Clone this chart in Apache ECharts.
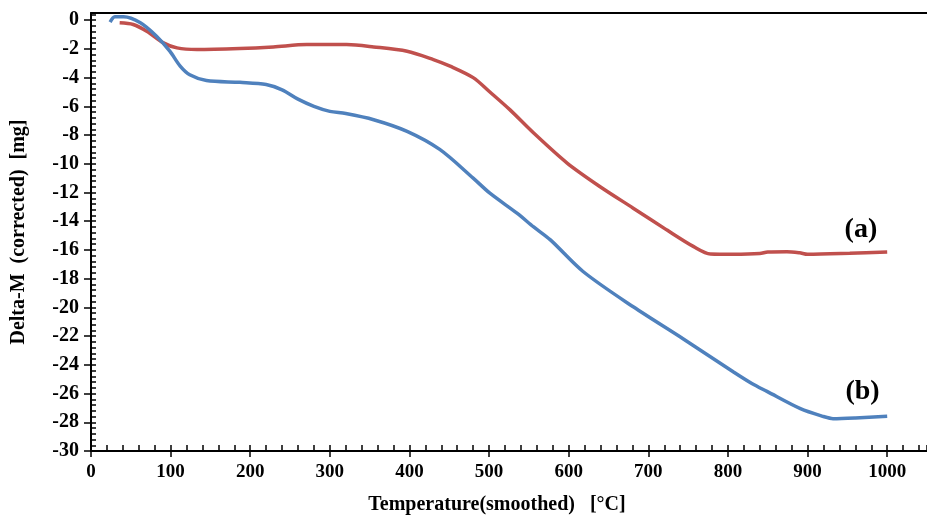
<!DOCTYPE html>
<html>
<head>
<meta charset="utf-8">
<script src="https://cdn.jsdelivr.net/npm/echarts@6/dist/echarts.min.js"></script>
<style>html,body{margin:0;padding:0;background:#fff}#c{width:927px;height:515px}</style>
</head>
<body>
<div id="c"></div>
<script>
// Curve (a) – red
const tempA = [36, 53, 70, 91, 108, 133, 187, 229, 271, 321, 355, 397, 430, 451, 480, 501, 526, 556, 598, 639, 681, 723, 757, 778, 807, 840, 850, 874, 890, 900, 953, 1000];
const massA = [-0.18, -0.3, -0.77, -1.58, -1.93, -2.04, -1.97, -1.86, -1.70, -1.70, -1.86, -2.16, -2.74, -3.2, -4.0, -5.0, -6.23, -7.86, -9.95, -11.58, -13.09, -14.6, -15.77, -16.28, -16.3, -16.25, -16.14, -16.12, -16.2, -16.3, -16.23, -16.14];
// Curve (b) – blue
const tempB = [24, 30, 41, 62, 82, 99, 112, 124, 145, 187, 220, 240, 260, 280, 300, 320, 355, 397, 438, 480, 501, 535, 556, 577, 618, 681, 744, 807, 830, 849, 891, 920, 932, 960, 1000];
const massB = [-0.14, 0.24, 0.24, -0.18, -1.1, -2.16, -3.2, -3.8, -4.2, -4.33, -4.48, -4.85, -5.5, -6.0, -6.35, -6.5, -6.93, -7.74, -9.0, -11.0, -12.05, -13.44, -14.4, -15.3, -17.5, -19.96, -22.2, -24.5, -25.3, -25.85, -27.05, -27.6, -27.75, -27.7, -27.58];
// Annotations
const labelA = {text: '(a)', at: [967, -14.6]};
const labelB = {text: '(b)', at: [969, -25.9]};
const xTitle = 'Temperature(smoothed)   [°C]';
const yTitle = 'Delta-M  (corrected)  [mg]';

const font = 'Liberation Serif';
const dataA = tempA.map((t, i) => [t, massA[i]]);
const dataB = tempB.map((t, i) => [t, massB[i]]);

const chart = echarts.init(document.getElementById('c'), null, {renderer: 'canvas'});
const xBase = {type: 'value', min: 0, max: 1050};
const yBase = {type: 'value', min: -30, max: 0.5};
const gridBox = {left: 91, right: 0, top: 13, bottom: 64, containLabel: false, outerBoundsMode: 'none'};
chart.setOption({
  animation: false,
  backgroundColor: '#fff',
  grid: [Object.assign({}, gridBox), Object.assign({}, gridBox)],
  xAxis: [
    Object.assign({}, xBase, {
      gridIndex: 0, position: 'bottom', interval: 100,
      axisLine: {show: true, onZero: false, lineStyle: {color: '#000', width: 2}},
      axisTick: {show: true, inside: false, length: 6, lineStyle: {color: '#000', width: 1.5}},
      axisLabel: {show: true, showMaxLabel: false, margin: 12, color: '#000', fontFamily: font, fontWeight: 'bold', fontSize: 19, formatter: v => String(v)},
      splitLine: {show: false},
      name: xTitle, nameLocation: 'middle', nameGap: 44,
      nameTextStyle: {color: '#000', fontFamily: font, fontWeight: 'bold', fontSize: 20, padding: [0, 24, 0, 0]}
    }),
    Object.assign({}, xBase, {
      gridIndex: 0, position: 'top',
      axisLine: {show: true, onZero: false, lineStyle: {color: '#000', width: 2}},
      axisTick: {show: false}, axisLabel: {show: false}, splitLine: {show: false}
    }),
    Object.assign({}, xBase, {
      gridIndex: 1, position: 'bottom', interval: 20,
      axisLine: {show: false, onZero: false},
      axisTick: {show: true, inside: true, length: 6, lineStyle: {color: '#000', width: 1.5}},
      axisLabel: {show: false}, splitLine: {show: false}
    })
  ],
  yAxis: [
    Object.assign({}, yBase, {
      gridIndex: 0, position: 'left', interval: 2,
      axisLine: {show: true, onZero: false, lineStyle: {color: '#000', width: 2}},
      axisTick: {show: true, inside: false, length: 7, lineStyle: {color: '#000', width: 1.5}},
      axisLabel: {show: true, showMaxLabel: false, margin: 12, color: '#000', fontFamily: font, fontWeight: 'bold', fontSize: 20},
      splitLine: {show: false},
      name: yTitle, nameLocation: 'middle', nameGap: 62, nameRotate: 90,
      nameTextStyle: {color: '#000', fontFamily: font, fontWeight: 'bold', fontSize: 20}
    }),
    Object.assign({}, yBase, {
      gridIndex: 1, position: 'left', interval: 0.4,
      axisLine: {show: false, onZero: false},
      axisTick: {show: true, inside: true, length: 5, lineStyle: {color: '#000', width: 1.5}},
      axisLabel: {show: false}, splitLine: {show: false}
    })
  ],
  series: [
    {
      name: '(a)', type: 'line', xAxisIndex: 0, yAxisIndex: 0, data: dataA,
      smooth: 0.3, showSymbol: false, symbol: 'none',
      lineStyle: {color: '#C0504D', width: 3.5},
      markPoint: {
        symbol: 'circle', symbolSize: 0,
        label: {show: true, position: 'inside', formatter: labelA.text, color: '#000', fontFamily: font, fontWeight: 'bold', fontSize: 28},
        data: [{coord: labelA.at}]
      }
    },
    {
      name: '(b)', type: 'line', xAxisIndex: 0, yAxisIndex: 0, data: dataB,
      smooth: 0.3, showSymbol: false, symbol: 'none',
      lineStyle: {color: '#4F81BD', width: 3.5},
      markPoint: {
        symbol: 'circle', symbolSize: 0,
        label: {show: true, position: 'inside', formatter: labelB.text, color: '#000', fontFamily: font, fontWeight: 'bold', fontSize: 28},
        data: [{coord: labelB.at}]
      }
    }
  ]
});
</script>
</body>
</html>
